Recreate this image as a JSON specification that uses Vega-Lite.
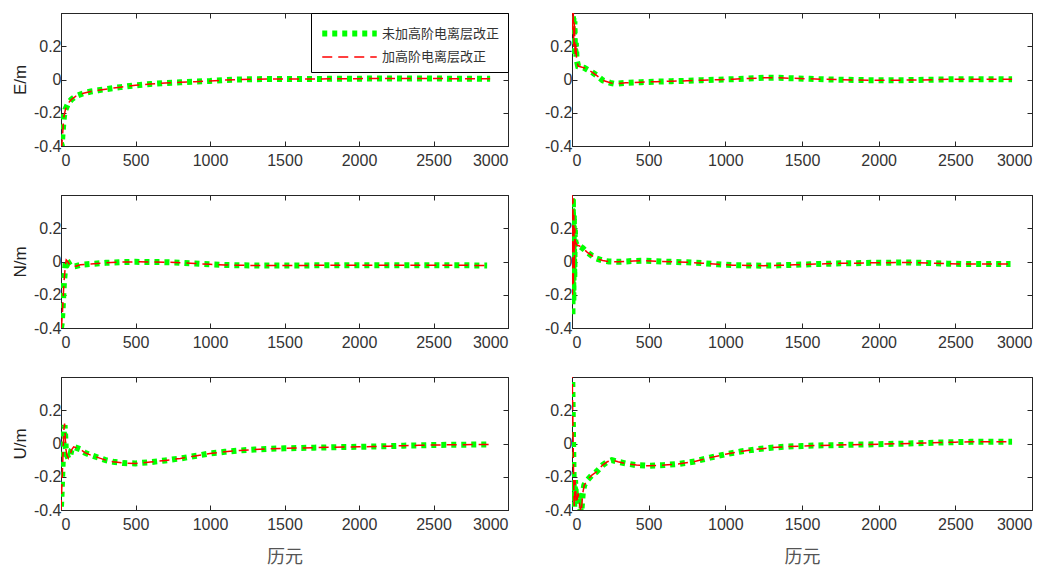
{
  "$schema": "https://vega.github.io/schema/vega-lite/v6.json",
  "padding": {"top": 12, "left": 10, "right": 5, "bottom": 5},
  "background": "white",
  "datasets": {
    "d": [
      {"p":"E1","t":0,"a":-0.38,"b":-0.38},{"p":"E1","t":5,"a":-0.40,"b":-0.40},{"p":"E1","t":10,"a":-0.33,"b":-0.34},{"p":"E1","t":15,"a":-0.27,"b":-0.27},{"p":"E1","t":20,"a":-0.22,"b":-0.22},{"p":"E1","t":30,"a":-0.18,"b":-0.18},{"p":"E1","t":50,"a":-0.14,"b":-0.14},{"p":"E1","t":70,"a":-0.12,"b":-0.12},{"p":"E1","t":100,"a":-0.1,"b":-0.1},{"p":"E1","t":150,"a":-0.083,"b":-0.083},{"p":"E1","t":200,"a":-0.072,"b":-0.072},{"p":"E1","t":250,"a":-0.065,"b":-0.065},{"p":"E1","t":300,"a":-0.058,"b":-0.058},{"p":"E1","t":400,"a":-0.046,"b":-0.046},{"p":"E1","t":500,"a":-0.035,"b":-0.035},{"p":"E1","t":600,"a":-0.027,"b":-0.027},{"p":"E1","t":700,"a":-0.021,"b":-0.021},{"p":"E1","t":800,"a":-0.017,"b":-0.017},{"p":"E1","t":900,"a":-0.013,"b":-0.013},{"p":"E1","t":1000,"a":-0.009,"b":-0.009},{"p":"E1","t":1100,"a":-0.003,"b":-0.003},{"p":"E1","t":1200,"a":0.0,"b":0.0},{"p":"E1","t":1300,"a":0.002,"b":0.002},{"p":"E1","t":1400,"a":0.003,"b":0.003},{"p":"E1","t":1500,"a":0.003,"b":0.003},{"p":"E1","t":1600,"a":0.003,"b":0.003},{"p":"E1","t":1700,"a":0.003,"b":0.003},{"p":"E1","t":1800,"a":0.004,"b":0.004},{"p":"E1","t":1900,"a":0.005,"b":0.005},{"p":"E1","t":2000,"a":0.005,"b":0.005},{"p":"E1","t":2100,"a":0.006,"b":0.006},{"p":"E1","t":2200,"a":0.006,"b":0.006},{"p":"E1","t":2300,"a":0.006,"b":0.006},{"p":"E1","t":2400,"a":0.006,"b":0.006},{"p":"E1","t":2500,"a":0.006,"b":0.006},{"p":"E1","t":2600,"a":0.005,"b":0.005},{"p":"E1","t":2700,"a":0.005,"b":0.005},{"p":"E1","t":2800,"a":0.004,"b":0.004},{"p":"E1","t":2880,"a":0.004,"b":0.004},

      {"p":"E2","t":0,"a":0.55,"b":0.55},{"p":"E2","t":4,"a":0.30,"b":0.30},{"p":"E2","t":8,"a":0.42,"b":0.42},{"p":"E2","t":12,"a":0.20,"b":0.20},{"p":"E2","t":16,"a":0.35,"b":0.35},{"p":"E2","t":20,"a":0.14,"b":0.14},{"p":"E2","t":25,"a":0.22,"b":0.22},{"p":"E2","t":30,"a":0.12,"b":0.12},{"p":"E2","t":40,"a":0.08,"b":0.08},{"p":"E2","t":60,"a":0.075,"b":0.075},{"p":"E2","t":80,"a":0.07,"b":0.07},{"p":"E2","t":100,"a":0.06,"b":0.06},{"p":"E2","t":130,"a":0.045,"b":0.045},{"p":"E2","t":160,"a":0.025,"b":0.025},{"p":"E2","t":200,"a":-0.005,"b":-0.005},{"p":"E2","t":250,"a":-0.02,"b":-0.02},{"p":"E2","t":280,"a":-0.026,"b":-0.026},{"p":"E2","t":350,"a":-0.02,"b":-0.02},{"p":"E2","t":450,"a":-0.016,"b":-0.016},{"p":"E2","t":550,"a":-0.013,"b":-0.013},{"p":"E2","t":650,"a":-0.01,"b":-0.01},{"p":"E2","t":750,"a":-0.008,"b":-0.008},{"p":"E2","t":850,"a":-0.004,"b":-0.004},{"p":"E2","t":950,"a":-0.001,"b":-0.001},{"p":"E2","t":1050,"a":0.002,"b":0.002},{"p":"E2","t":1150,"a":0.006,"b":0.006},{"p":"E2","t":1250,"a":0.01,"b":0.01},{"p":"E2","t":1350,"a":0.01,"b":0.01},{"p":"E2","t":1450,"a":0.007,"b":0.007},{"p":"E2","t":1550,"a":0.004,"b":0.004},{"p":"E2","t":1650,"a":0.001,"b":0.001},{"p":"E2","t":1750,"a":-0.001,"b":-0.001},{"p":"E2","t":1850,"a":-0.003,"b":-0.003},{"p":"E2","t":1950,"a":-0.004,"b":-0.004},{"p":"E2","t":2050,"a":-0.004,"b":-0.004},{"p":"E2","t":2150,"a":-0.004,"b":-0.004},{"p":"E2","t":2250,"a":-0.003,"b":-0.003},{"p":"E2","t":2350,"a":-0.001,"b":-0.001},{"p":"E2","t":2450,"a":0.001,"b":0.001},{"p":"E2","t":2550,"a":0.002,"b":0.002},{"p":"E2","t":2650,"a":0.002,"b":0.002},{"p":"E2","t":2750,"a":0.002,"b":0.002},{"p":"E2","t":2870,"a":0.001,"b":0.001},

      {"p":"N1","t":0,"a":-0.40,"b":-0.40},{"p":"N1","t":5,"a":-0.37,"b":-0.37},{"p":"N1","t":10,"a":-0.30,"b":-0.30},{"p":"N1","t":15,"a":-0.21,"b":-0.21},{"p":"N1","t":20,"a":-0.12,"b":-0.12},{"p":"N1","t":25,"a":-0.07,"b":-0.07},{"p":"N1","t":30,"a":-0.02,"b":-0.02},{"p":"N1","t":35,"a":0.01,"b":0.01},{"p":"N1","t":45,"a":0.0,"b":0.0},{"p":"N1","t":60,"a":-0.022,"b":-0.022},{"p":"N1","t":80,"a":-0.03,"b":-0.03},{"p":"N1","t":100,"a":-0.028,"b":-0.028},{"p":"N1","t":130,"a":-0.02,"b":-0.02},{"p":"N1","t":200,"a":-0.015,"b":-0.015},{"p":"N1","t":300,"a":-0.008,"b":-0.008},{"p":"N1","t":400,"a":-0.004,"b":-0.004},{"p":"N1","t":500,"a":-0.002,"b":-0.002},{"p":"N1","t":600,"a":-0.003,"b":-0.003},{"p":"N1","t":700,"a":-0.004,"b":-0.004},{"p":"N1","t":800,"a":-0.007,"b":-0.007},{"p":"N1","t":900,"a":-0.012,"b":-0.012},{"p":"N1","t":1000,"a":-0.017,"b":-0.017},{"p":"N1","t":1100,"a":-0.021,"b":-0.021},{"p":"N1","t":1200,"a":-0.023,"b":-0.023},{"p":"N1","t":1300,"a":-0.024,"b":-0.024},{"p":"N1","t":1400,"a":-0.024,"b":-0.024},{"p":"N1","t":1500,"a":-0.024,"b":-0.024},{"p":"N1","t":1600,"a":-0.024,"b":-0.024},{"p":"N1","t":1700,"a":-0.023,"b":-0.023},{"p":"N1","t":1800,"a":-0.023,"b":-0.023},{"p":"N1","t":1900,"a":-0.023,"b":-0.023},{"p":"N1","t":2000,"a":-0.022,"b":-0.022},{"p":"N1","t":2100,"a":-0.022,"b":-0.022},{"p":"N1","t":2200,"a":-0.022,"b":-0.022},{"p":"N1","t":2300,"a":-0.022,"b":-0.022},{"p":"N1","t":2400,"a":-0.022,"b":-0.022},{"p":"N1","t":2500,"a":-0.022,"b":-0.022},{"p":"N1","t":2600,"a":-0.023,"b":-0.023},{"p":"N1","t":2700,"a":-0.023,"b":-0.023},{"p":"N1","t":2860,"a":-0.024,"b":-0.024},

      {"p":"N2","t":0,"a":0.5,"b":0.5},{"p":"N2","t":3,"a":-0.33,"b":-0.2},{"p":"N2","t":6,"a":0.38,"b":0.38},{"p":"N2","t":9,"a":-0.24,"b":-0.15},{"p":"N2","t":12,"a":0.28,"b":0.28},{"p":"N2","t":15,"a":-0.1,"b":-0.05},{"p":"N2","t":18,"a":0.2,"b":0.2},{"p":"N2","t":22,"a":0.12,"b":0.12},{"p":"N2","t":30,"a":0.1,"b":0.1},{"p":"N2","t":45,"a":0.095,"b":0.095},{"p":"N2","t":70,"a":0.08,"b":0.08},{"p":"N2","t":100,"a":0.055,"b":0.055},{"p":"N2","t":130,"a":0.035,"b":0.035},{"p":"N2","t":160,"a":0.018,"b":0.018},{"p":"N2","t":200,"a":0.006,"b":0.006},{"p":"N2","t":240,"a":0.0,"b":0.0},{"p":"N2","t":300,"a":-0.002,"b":-0.002},{"p":"N2","t":400,"a":0.003,"b":0.003},{"p":"N2","t":460,"a":0.005,"b":0.005},{"p":"N2","t":550,"a":0.001,"b":0.001},{"p":"N2","t":650,"a":-0.002,"b":-0.002},{"p":"N2","t":750,"a":-0.005,"b":-0.005},{"p":"N2","t":850,"a":-0.01,"b":-0.01},{"p":"N2","t":950,"a":-0.017,"b":-0.017},{"p":"N2","t":1050,"a":-0.022,"b":-0.022},{"p":"N2","t":1150,"a":-0.024,"b":-0.024},{"p":"N2","t":1250,"a":-0.025,"b":-0.025},{"p":"N2","t":1350,"a":-0.023,"b":-0.023},{"p":"N2","t":1450,"a":-0.02,"b":-0.02},{"p":"N2","t":1550,"a":-0.017,"b":-0.017},{"p":"N2","t":1650,"a":-0.014,"b":-0.014},{"p":"N2","t":1750,"a":-0.011,"b":-0.011},{"p":"N2","t":1850,"a":-0.01,"b":-0.01},{"p":"N2","t":1950,"a":-0.008,"b":-0.008},{"p":"N2","t":2050,"a":-0.008,"b":-0.008},{"p":"N2","t":2150,"a":-0.006,"b":-0.006},{"p":"N2","t":2250,"a":-0.007,"b":-0.007},{"p":"N2","t":2350,"a":-0.01,"b":-0.01},{"p":"N2","t":2450,"a":-0.013,"b":-0.013},{"p":"N2","t":2550,"a":-0.015,"b":-0.015},{"p":"N2","t":2650,"a":-0.015,"b":-0.015},{"p":"N2","t":2750,"a":-0.015,"b":-0.015},{"p":"N2","t":2860,"a":-0.015,"b":-0.015},

      {"p":"U1","t":0,"a":-0.38,"b":-0.4},{"p":"U1","t":4,"a":-0.30,"b":-0.30},{"p":"U1","t":8,"a":-0.20,"b":-0.20},{"p":"U1","t":12,"a":-0.10,"b":-0.10},{"p":"U1","t":16,"a":0.0,"b":0.0},{"p":"U1","t":20,"a":0.08,"b":0.09},{"p":"U1","t":24,"a":0.11,"b":0.12},{"p":"U1","t":28,"a":0.05,"b":0.05},{"p":"U1","t":32,"a":-0.03,"b":-0.03},{"p":"U1","t":40,"a":-0.07,"b":-0.07},{"p":"U1","t":50,"a":-0.09,"b":-0.09},{"p":"U1","t":60,"a":-0.08,"b":-0.08},{"p":"U1","t":70,"a":-0.04,"b":-0.04},{"p":"U1","t":85,"a":-0.02,"b":-0.02},{"p":"U1","t":100,"a":-0.025,"b":-0.025},{"p":"U1","t":130,"a":-0.035,"b":-0.035},{"p":"U1","t":160,"a":-0.055,"b":-0.055},{"p":"U1","t":200,"a":-0.07,"b":-0.07},{"p":"U1","t":250,"a":-0.085,"b":-0.085},{"p":"U1","t":300,"a":-0.1,"b":-0.1},{"p":"U1","t":350,"a":-0.11,"b":-0.11},{"p":"U1","t":420,"a":-0.118,"b":-0.118},{"p":"U1","t":500,"a":-0.12,"b":-0.12},{"p":"U1","t":600,"a":-0.112,"b":-0.112},{"p":"U1","t":700,"a":-0.102,"b":-0.102},{"p":"U1","t":800,"a":-0.09,"b":-0.09},{"p":"U1","t":900,"a":-0.075,"b":-0.075},{"p":"U1","t":1000,"a":-0.06,"b":-0.06},{"p":"U1","t":1100,"a":-0.05,"b":-0.05},{"p":"U1","t":1200,"a":-0.042,"b":-0.042},{"p":"U1","t":1300,"a":-0.036,"b":-0.036},{"p":"U1","t":1400,"a":-0.032,"b":-0.032},{"p":"U1","t":1500,"a":-0.029,"b":-0.029},{"p":"U1","t":1600,"a":-0.027,"b":-0.027},{"p":"U1","t":1700,"a":-0.025,"b":-0.025},{"p":"U1","t":1800,"a":-0.023,"b":-0.023},{"p":"U1","t":1900,"a":-0.021,"b":-0.021},{"p":"U1","t":2000,"a":-0.02,"b":-0.02},{"p":"U1","t":2100,"a":-0.018,"b":-0.018},{"p":"U1","t":2200,"a":-0.016,"b":-0.016},{"p":"U1","t":2300,"a":-0.013,"b":-0.013},{"p":"U1","t":2400,"a":-0.011,"b":-0.011},{"p":"U1","t":2500,"a":-0.009,"b":-0.009},{"p":"U1","t":2600,"a":-0.008,"b":-0.008},{"p":"U1","t":2700,"a":-0.007,"b":-0.007},{"p":"U1","t":2800,"a":-0.006,"b":-0.006},{"p":"U1","t":2880,"a":-0.006,"b":-0.006},

      {"p":"U2","t":0,"a":0.55,"b":0.55},{"p":"U2","t":3,"a":0.3,"b":0.3},{"p":"U2","t":6,"a":0.1,"b":0.1},{"p":"U2","t":9,"a":-0.1,"b":-0.1},{"p":"U2","t":12,"a":-0.3,"b":-0.3},{"p":"U2","t":15,"a":-0.38,"b":-0.38},{"p":"U2","t":20,"a":-0.22,"b":-0.22},{"p":"U2","t":25,"a":-0.3,"b":-0.3},{"p":"U2","t":30,"a":-0.36,"b":-0.36},{"p":"U2","t":40,"a":-0.3,"b":-0.3},{"p":"U2","t":50,"a":-0.37,"b":-0.37},{"p":"U2","t":60,"a":-0.42,"b":-0.42},{"p":"U2","t":70,"a":-0.3,"b":-0.3},{"p":"U2","t":80,"a":-0.25,"b":-0.25},{"p":"U2","t":100,"a":-0.22,"b":-0.22},{"p":"U2","t":130,"a":-0.19,"b":-0.19},{"p":"U2","t":160,"a":-0.17,"b":-0.17},{"p":"U2","t":200,"a":-0.13,"b":-0.13},{"p":"U2","t":230,"a":-0.11,"b":-0.11},{"p":"U2","t":260,"a":-0.1,"b":-0.1},{"p":"U2","t":300,"a":-0.11,"b":-0.11},{"p":"U2","t":350,"a":-0.12,"b":-0.12},{"p":"U2","t":420,"a":-0.13,"b":-0.13},{"p":"U2","t":500,"a":-0.134,"b":-0.134},{"p":"U2","t":600,"a":-0.13,"b":-0.13},{"p":"U2","t":700,"a":-0.122,"b":-0.122},{"p":"U2","t":800,"a":-0.108,"b":-0.108},{"p":"U2","t":900,"a":-0.085,"b":-0.085},{"p":"U2","t":1000,"a":-0.065,"b":-0.065},{"p":"U2","t":1100,"a":-0.048,"b":-0.048},{"p":"U2","t":1200,"a":-0.035,"b":-0.035},{"p":"U2","t":1300,"a":-0.025,"b":-0.025},{"p":"U2","t":1400,"a":-0.019,"b":-0.019},{"p":"U2","t":1500,"a":-0.015,"b":-0.015},{"p":"U2","t":1600,"a":-0.012,"b":-0.012},{"p":"U2","t":1700,"a":-0.01,"b":-0.01},{"p":"U2","t":1800,"a":-0.008,"b":-0.008},{"p":"U2","t":1900,"a":-0.006,"b":-0.006},{"p":"U2","t":2000,"a":-0.004,"b":-0.004},{"p":"U2","t":2100,"a":-0.002,"b":-0.002},{"p":"U2","t":2200,"a":0.0,"b":0.0},{"p":"U2","t":2300,"a":0.003,"b":0.003},{"p":"U2","t":2400,"a":0.006,"b":0.006},{"p":"U2","t":2500,"a":0.008,"b":0.008},{"p":"U2","t":2600,"a":0.01,"b":0.01},{"p":"U2","t":2700,"a":0.011,"b":0.011},{"p":"U2","t":2870,"a":0.011,"b":0.011}
    ]
  },
  "columns": 2,
  "spacing": {"row": 49, "column": 64},
  "bounds": "flush",
  "align": "each",
  "resolve": {
    "scale": {"color": "independent", "strokeDash": "independent", "strokeWidth": "independent"},
    "legend": {"color": "independent", "strokeDash": "independent", "strokeWidth": "independent"}
  },
  "concat": [
    {
      "width": 447, "height": 133,
      "data": {"name": "d"},
      "transform": [{"filter": "datum.p === 'E1'"}, {"fold": ["a", "b"], "as": ["k", "v"]}],
      "layer": [
        {
          "mark": {"type": "line", "clip": true, "strokeCap": "butt"},
          "encoding": {
            "x": {"field": "t", "type": "quantitative", "scale": {"domain": [0, 3000], "nice": false, "zero": false}, "axis": {"values": [0, 500, 1000, 1500, 2000, 2500, 3000], "labelExpr": "toString(datum.value)", "title": null}},
            "y": {"field": "v", "type": "quantitative", "scale": {"domain": [-0.4, 0.4], "nice": false, "zero": false}, "axis": {"values": [-0.4, -0.2, 0, 0.2], "labelExpr": "toString(datum.value)", "title": "E/m"}},
            "color": {"field": "k", "type": "nominal", "scale": {"domain": ["a", "b"], "range": ["#00ff00", "#ff0000"]},
              "legend": {"orient": "top-right", "offset": 0, "title": null, "symbolType": "M-3,0H3", "symbolSize": 330, "labelExpr": "datum.label === 'a' ? '未加高阶电离层改正' : '加高阶电离层改正'", "strokeColor": "#000000", "fillColor": "#ffffff", "padding": 8, "labelFont": "Noto Sans CJK SC", "labelFontSize": 13, "labelColor": "#333333", "symbolOffset": 18, "labelOffset": 20, "rowPadding": 1, "cornerRadius": 0}},
            "strokeDash": {"field": "k", "type": "nominal", "scale": {"domain": ["a", "b"], "range": [[5, 5], [10, 6]]}},
            "strokeWidth": {"field": "k", "type": "nominal", "scale": {"type": "ordinal", "domain": ["a", "b"], "range": [6, 1.5]}}
          }
        },
        {
          "mark": {"type": "line", "opacity": 0, "clip": true},
          "encoding": {
            "x": {"field": "t", "type": "quantitative", "scale": {"domain": [0, 3000], "nice": false, "zero": false}, "axis": {"orient": "top", "values": [0, 500, 1000, 1500, 2000, 2500, 3000], "labels": false, "title": null}},
            "y": {"field": "v", "type": "quantitative", "scale": {"domain": [-0.4, 0.4], "nice": false, "zero": false}, "axis": {"orient": "right", "values": [-0.4, -0.2, 0, 0.2], "labels": false, "title": null}}
          }
        }
      ],
      "resolve": {"axis": {"x": "independent", "y": "independent"}}
    },
    {
      "width": 460, "height": 133,
      "data": {"name": "d"},
      "transform": [{"filter": "datum.p === 'E2'"}, {"fold": ["a", "b"], "as": ["k", "v"]}],
      "layer": [
        {
          "mark": {"type": "line", "clip": true, "strokeCap": "butt"},
          "encoding": {
            "x": {"field": "t", "type": "quantitative", "scale": {"domain": [0, 3000], "nice": false, "zero": false}, "axis": {"values": [0, 500, 1000, 1500, 2000, 2500, 3000], "labelExpr": "toString(datum.value)", "title": null}},
            "y": {"field": "v", "type": "quantitative", "scale": {"domain": [-0.4, 0.4], "nice": false, "zero": false}, "axis": {"values": [-0.4, -0.2, 0, 0.2], "labelExpr": "toString(datum.value)", "title": null}},
            "color": {"field": "k", "type": "nominal", "scale": {"domain": ["a", "b"], "range": ["#00ff00", "#ff0000"]}, "legend": null},
            "strokeDash": {"field": "k", "type": "nominal", "scale": {"domain": ["a", "b"], "range": [[5, 5], [10, 6]]}, "legend": null},
            "strokeWidth": {"field": "k", "type": "nominal", "scale": {"type": "ordinal", "domain": ["a", "b"], "range": [6, 1.5]}, "legend": null}
          }
        },
        {
          "mark": {"type": "line", "opacity": 0, "clip": true},
          "encoding": {
            "x": {"field": "t", "type": "quantitative", "scale": {"domain": [0, 3000], "nice": false, "zero": false}, "axis": {"orient": "top", "values": [0, 500, 1000, 1500, 2000, 2500, 3000], "labels": false, "title": null}},
            "y": {"field": "v", "type": "quantitative", "scale": {"domain": [-0.4, 0.4], "nice": false, "zero": false}, "axis": {"orient": "right", "values": [-0.4, -0.2, 0, 0.2], "labels": false, "title": null}}
          }
        }
      ],
      "resolve": {"axis": {"x": "independent", "y": "independent"}}
    },
    {
      "width": 447, "height": 133,
      "data": {"name": "d"},
      "transform": [{"filter": "datum.p === 'N1'"}, {"fold": ["a", "b"], "as": ["k", "v"]}],
      "layer": [
        {
          "mark": {"type": "line", "clip": true, "strokeCap": "butt"},
          "encoding": {
            "x": {"field": "t", "type": "quantitative", "scale": {"domain": [0, 3000], "nice": false, "zero": false}, "axis": {"values": [0, 500, 1000, 1500, 2000, 2500, 3000], "labelExpr": "toString(datum.value)", "title": null}},
            "y": {"field": "v", "type": "quantitative", "scale": {"domain": [-0.4, 0.4], "nice": false, "zero": false}, "axis": {"values": [-0.4, -0.2, 0, 0.2], "labelExpr": "toString(datum.value)", "title": "N/m"}},
            "color": {"field": "k", "type": "nominal", "scale": {"domain": ["a", "b"], "range": ["#00ff00", "#ff0000"]}, "legend": null},
            "strokeDash": {"field": "k", "type": "nominal", "scale": {"domain": ["a", "b"], "range": [[5, 5], [10, 6]]}, "legend": null},
            "strokeWidth": {"field": "k", "type": "nominal", "scale": {"type": "ordinal", "domain": ["a", "b"], "range": [6, 1.5]}, "legend": null}
          }
        },
        {
          "mark": {"type": "line", "opacity": 0, "clip": true},
          "encoding": {
            "x": {"field": "t", "type": "quantitative", "scale": {"domain": [0, 3000], "nice": false, "zero": false}, "axis": {"orient": "top", "values": [0, 500, 1000, 1500, 2000, 2500, 3000], "labels": false, "title": null}},
            "y": {"field": "v", "type": "quantitative", "scale": {"domain": [-0.4, 0.4], "nice": false, "zero": false}, "axis": {"orient": "right", "values": [-0.4, -0.2, 0, 0.2], "labels": false, "title": null}}
          }
        }
      ],
      "resolve": {"axis": {"x": "independent", "y": "independent"}}
    },
    {
      "width": 460, "height": 133,
      "data": {"name": "d"},
      "transform": [{"filter": "datum.p === 'N2'"}, {"fold": ["a", "b"], "as": ["k", "v"]}],
      "layer": [
        {
          "mark": {"type": "line", "clip": true, "strokeCap": "butt"},
          "encoding": {
            "x": {"field": "t", "type": "quantitative", "scale": {"domain": [0, 3000], "nice": false, "zero": false}, "axis": {"values": [0, 500, 1000, 1500, 2000, 2500, 3000], "labelExpr": "toString(datum.value)", "title": null}},
            "y": {"field": "v", "type": "quantitative", "scale": {"domain": [-0.4, 0.4], "nice": false, "zero": false}, "axis": {"values": [-0.4, -0.2, 0, 0.2], "labelExpr": "toString(datum.value)", "title": null}},
            "color": {"field": "k", "type": "nominal", "scale": {"domain": ["a", "b"], "range": ["#00ff00", "#ff0000"]}, "legend": null},
            "strokeDash": {"field": "k", "type": "nominal", "scale": {"domain": ["a", "b"], "range": [[5, 5], [10, 6]]}, "legend": null},
            "strokeWidth": {"field": "k", "type": "nominal", "scale": {"type": "ordinal", "domain": ["a", "b"], "range": [6, 1.5]}, "legend": null}
          }
        },
        {
          "mark": {"type": "line", "opacity": 0, "clip": true},
          "encoding": {
            "x": {"field": "t", "type": "quantitative", "scale": {"domain": [0, 3000], "nice": false, "zero": false}, "axis": {"orient": "top", "values": [0, 500, 1000, 1500, 2000, 2500, 3000], "labels": false, "title": null}},
            "y": {"field": "v", "type": "quantitative", "scale": {"domain": [-0.4, 0.4], "nice": false, "zero": false}, "axis": {"orient": "right", "values": [-0.4, -0.2, 0, 0.2], "labels": false, "title": null}}
          }
        }
      ],
      "resolve": {"axis": {"x": "independent", "y": "independent"}}
    },
    {
      "width": 447, "height": 133,
      "data": {"name": "d"},
      "transform": [{"filter": "datum.p === 'U1'"}, {"fold": ["a", "b"], "as": ["k", "v"]}],
      "layer": [
        {
          "mark": {"type": "line", "clip": true, "strokeCap": "butt"},
          "encoding": {
            "x": {"field": "t", "type": "quantitative", "scale": {"domain": [0, 3000], "nice": false, "zero": false}, "axis": {"values": [0, 500, 1000, 1500, 2000, 2500, 3000], "labelExpr": "toString(datum.value)", "title": "历元"}},
            "y": {"field": "v", "type": "quantitative", "scale": {"domain": [-0.4, 0.4], "nice": false, "zero": false}, "axis": {"values": [-0.4, -0.2, 0, 0.2], "labelExpr": "toString(datum.value)", "title": "U/m"}},
            "color": {"field": "k", "type": "nominal", "scale": {"domain": ["a", "b"], "range": ["#00ff00", "#ff0000"]}, "legend": null},
            "strokeDash": {"field": "k", "type": "nominal", "scale": {"domain": ["a", "b"], "range": [[5, 5], [10, 6]]}, "legend": null},
            "strokeWidth": {"field": "k", "type": "nominal", "scale": {"type": "ordinal", "domain": ["a", "b"], "range": [6, 1.5]}, "legend": null}
          }
        },
        {
          "mark": {"type": "line", "opacity": 0, "clip": true},
          "encoding": {
            "x": {"field": "t", "type": "quantitative", "scale": {"domain": [0, 3000], "nice": false, "zero": false}, "axis": {"orient": "top", "values": [0, 500, 1000, 1500, 2000, 2500, 3000], "labels": false, "title": null}},
            "y": {"field": "v", "type": "quantitative", "scale": {"domain": [-0.4, 0.4], "nice": false, "zero": false}, "axis": {"orient": "right", "values": [-0.4, -0.2, 0, 0.2], "labels": false, "title": null}}
          }
        }
      ],
      "resolve": {"axis": {"x": "independent", "y": "independent"}}
    },
    {
      "width": 460, "height": 133,
      "data": {"name": "d"},
      "transform": [{"filter": "datum.p === 'U2'"}, {"fold": ["a", "b"], "as": ["k", "v"]}],
      "layer": [
        {
          "mark": {"type": "line", "clip": true, "strokeCap": "butt"},
          "encoding": {
            "x": {"field": "t", "type": "quantitative", "scale": {"domain": [0, 3000], "nice": false, "zero": false}, "axis": {"values": [0, 500, 1000, 1500, 2000, 2500, 3000], "labelExpr": "toString(datum.value)", "title": "历元"}},
            "y": {"field": "v", "type": "quantitative", "scale": {"domain": [-0.4, 0.4], "nice": false, "zero": false}, "axis": {"values": [-0.4, -0.2, 0, 0.2], "labelExpr": "toString(datum.value)", "title": null}},
            "color": {"field": "k", "type": "nominal", "scale": {"domain": ["a", "b"], "range": ["#00ff00", "#ff0000"]}, "legend": null},
            "strokeDash": {"field": "k", "type": "nominal", "scale": {"domain": ["a", "b"], "range": [[5, 5], [10, 6]]}, "legend": null},
            "strokeWidth": {"field": "k", "type": "nominal", "scale": {"type": "ordinal", "domain": ["a", "b"], "range": [6, 1.5]}, "legend": null}
          }
        },
        {
          "mark": {"type": "line", "opacity": 0, "clip": true},
          "encoding": {
            "x": {"field": "t", "type": "quantitative", "scale": {"domain": [0, 3000], "nice": false, "zero": false}, "axis": {"orient": "top", "values": [0, 500, 1000, 1500, 2000, 2500, 3000], "labels": false, "title": null}},
            "y": {"field": "v", "type": "quantitative", "scale": {"domain": [-0.4, 0.4], "nice": false, "zero": false}, "axis": {"orient": "right", "values": [-0.4, -0.2, 0, 0.2], "labels": false, "title": null}}
          }
        }
      ],
      "resolve": {"axis": {"x": "independent", "y": "independent"}}
    }
  ],
  "config": {
    "font": "Liberation Sans",
    "view": {"stroke": "#262626", "strokeWidth": 1},
    "axis": {
      "grid": false,
      "domainColor": "#262626",
      "tickColor": "#262626",
      "tickSize": -5,
      "labelColor": "#333333",
      "labelFont": "Liberation Sans",
      "labelFontSize": 16,
      "titleFont": "Liberation Sans",
      "titleFontSize": 17,
      "titleFontWeight": "normal",
      "titleColor": "#222222"
    },
    "axisX": {"labelPadding": 11, "titleFont": "Noto Sans CJK SC", "titleFontSize": 18, "titleColor": "#555555", "titlePadding": 16},
    "axisY": {"labelPadding": 5, "titlePadding": 4}
  }
}
